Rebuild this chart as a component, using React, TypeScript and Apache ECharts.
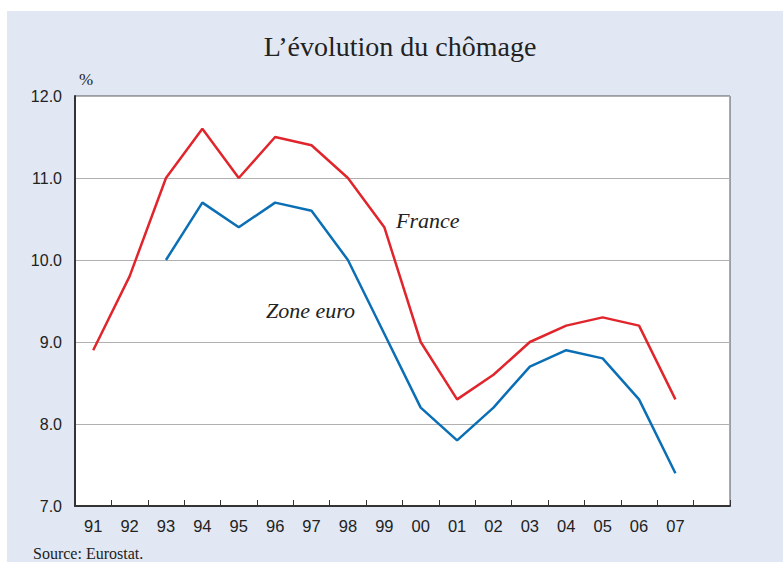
import React, { useEffect, useRef } from "react";
import * as echarts from "echarts";

const years = ["91", "92", "93", "94", "95", "96", "97", "98", "99", "00", "01", "02", "03", "04", "05", "06", "07", ""];
const france = [8.9, 9.8, 11.0, 11.6, 11.0, 11.5, 11.4, 11.0, 10.4, 9.0, 8.3, 8.6, 9.0, 9.2, 9.3, 9.2, 8.3, null];
const zoneEuro = [null, null, 10.0, 10.7, 10.4, 10.7, 10.6, 10.0, 9.1, 8.2, 7.8, 8.2, 8.7, 8.9, 8.8, 8.3, 7.4, null];
const title = "L\u2019évolution du chômage";
const source = "Source: Eurostat.";

export default function App() {
  const ref = useRef<HTMLDivElement>(null);
  useEffect(() => {
    if (!ref.current) return;
    const chart = echarts.init(ref.current, null, { renderer: "svg" });
    const serif = "'Liberation Serif', 'DejaVu Serif', serif";
    const sans = "'Liberation Sans', Arial, sans-serif";
    chart.setOption({
      animation: false,
      backgroundColor: "#ffffff",
      graphic: [
        { type: "rect", z: -10, shape: { x: 7, y: 11, width: 776, height: 551 }, style: { fill: "#e1e8f4" } },
        { type: "text", x: 400, y: 46, style: { text: title, font: `28px ${serif}`, fill: "#222", textAlign: "center", textVerticalAlign: "middle" } },
        { type: "text", x: 86, y: 79, style: { text: "%", font: `17px ${serif}`, fill: "#222", textAlign: "center", textVerticalAlign: "middle" } },
        { type: "text", x: 396, y: 220, z: 10, style: { text: "France", font: `italic 22px ${serif}`, fill: "#222", textAlign: "left", textVerticalAlign: "middle" } },
        { type: "text", x: 266, y: 310, z: 10, style: { text: "Zone euro", font: `italic 22px ${serif}`, fill: "#222", textAlign: "left", textVerticalAlign: "middle" } },
        { type: "text", x: 33, y: 553, style: { text: source, font: `16px ${serif}`, fill: "#222", textAlign: "left", textVerticalAlign: "middle" } },
      ],
      grid: {
        left: 75, top: 96, width: 655, height: 410,
        show: true, backgroundColor: "#ffffff", borderColor: "#555", borderWidth: 1,
      },
      xAxis: {
        type: "category",
        data: years,
        boundaryGap: true,
        axisLine: { lineStyle: { color: "#333", width: 2 } },
        axisTick: { show: true, inside: true, length: 6, interval: 0, lineStyle: { color: "#333", width: 1 } },
        axisLabel: { interval: 0, color: "#222", fontSize: 16.5, fontFamily: sans, margin: 11 },
        splitLine: { show: false },
      },
      yAxis: {
        type: "value",
        min: 7, max: 12, interval: 1,
        axisLine: { show: true, lineStyle: { color: "#333", width: 2 } },
        axisTick: { show: false },
        axisLabel: { color: "#222", fontSize: 16, fontFamily: sans, margin: 13, formatter: (v: number) => v.toFixed(1) },
        splitLine: { show: true, lineStyle: { color: "#b0b0b0", width: 1 } },
      },
      series: [
        { name: "France", type: "line", data: france, symbol: "none", lineStyle: { color: "#e0262c", width: 2.5 }, itemStyle: { color: "#e0262c" }, z: 3 },
        { name: "Zone euro", type: "line", data: zoneEuro, symbol: "none", lineStyle: { color: "#0b6fb5", width: 2.5 }, itemStyle: { color: "#0b6fb5" }, z: 4 },
      ],
    });
    return () => chart.dispose();
  }, []);
  return <div ref={ref} style={{ position: "fixed", left: 0, top: 0, width: 783, height: 562 }} />;
}
